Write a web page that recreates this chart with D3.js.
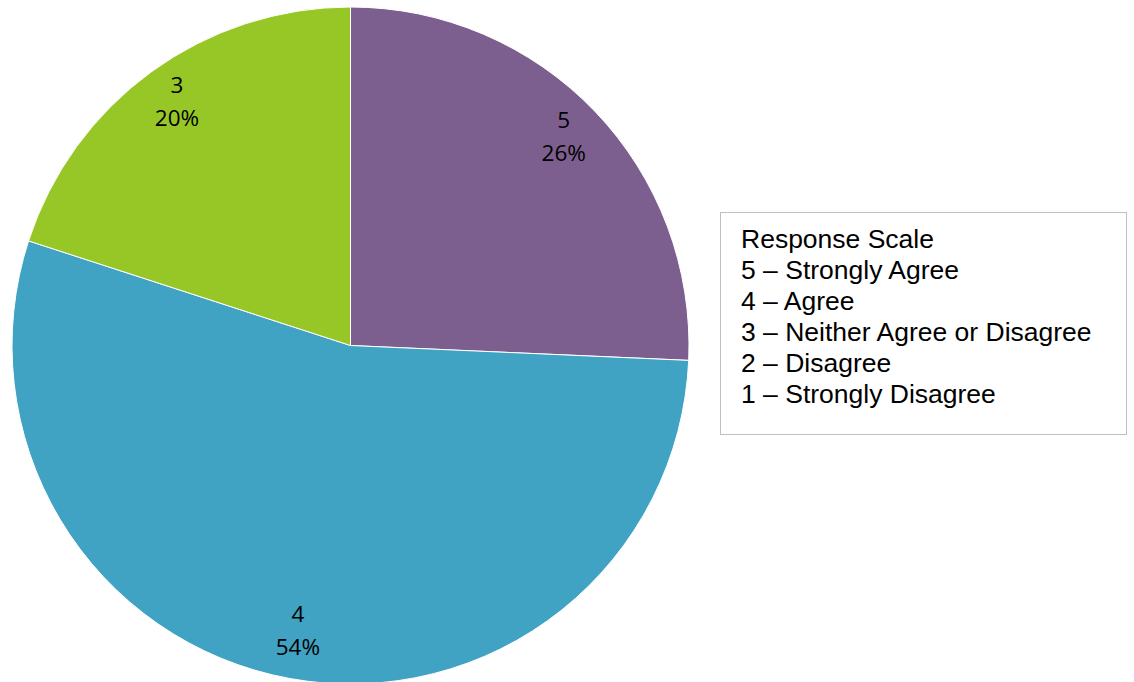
<!DOCTYPE html>
<html><head><meta charset="utf-8">
<script src="https://cdn.jsdelivr.net/npm/d3@7"></script>
<style>body{margin:0;background:#fff;overflow:hidden}</style>
</head><body>
<svg id="c" width="1134" height="682"></svg>
<script>
const categories = ["5", "4", "3"];
const values = [25.7, 54.3, 20.0];
const colors = ["#7D5F8F", "#41A3C3", "#97C727"];
const legendTitle = "Response Scale";
const legendItems = ["5 – Strongly Agree", "4 – Agree", "3 – Neither Agree or Disagree", "2 – Disagree", "1 – Strongly Disagree"];

const svg = d3.select("#c");
const cx = 350.5, cy = 345.5, R = 338.5;
const g = svg.append("g").attr("transform", `translate(${cx},${cy})`);
const data = categories.map((c, i) => ({cat: c, v: values[i], col: colors[i]}));
const total = d3.sum(values);
const pie = d3.pie().value(d => d.v).sort(null);
const arc = d3.arc().innerRadius(0).outerRadius(R);
const labelArc = d3.arc().innerRadius(R * 0.872).outerRadius(R * 0.872);
const arcs = pie(data);
g.selectAll("path").data(arcs).join("path")
  .attr("d", arc).attr("fill", d => d.data.col)
  .attr("stroke", "#fff").attr("stroke-width", 1);
const lab = g.selectAll("g.lab").data(arcs).join("g").attr("class", "lab")
  .attr("transform", d => { const c = labelArc.centroid(d); return `translate(${c[0]},${c[1] - 4.5})`; });
const lf = "'Open Sans', 'Liberation Sans', sans-serif";
lab.append("text").attr("text-anchor", "middle").attr("y", -9)
  .attr("font-family", lf).attr("font-size", "22.5px").attr("fill", "#000")
  .text(d => d.data.cat);
lab.append("text").attr("text-anchor", "middle").attr("y", 24)
  .attr("font-family", lf).attr("font-size", "22.5px").attr("fill", "#000")
  .text(d => Math.round(d.data.v / total * 100) + "%");

const lg = svg.append("g");
lg.append("rect").attr("x", 720.5).attr("y", 212.5).attr("width", 406).attr("height", 222)
  .attr("fill", "#fff").attr("stroke", "#BFBFBF").attr("stroke-width", 1);
[legendTitle].concat(legendItems).forEach((t, i) => {
  lg.append("text").attr("x", 741).attr("y", 248 + i * 31)
    .attr("font-family", "'Liberation Sans', Arial, sans-serif").attr("font-size", "26.5px")
    .attr("fill", "#000").text(t);
});
</script>
</body></html>
